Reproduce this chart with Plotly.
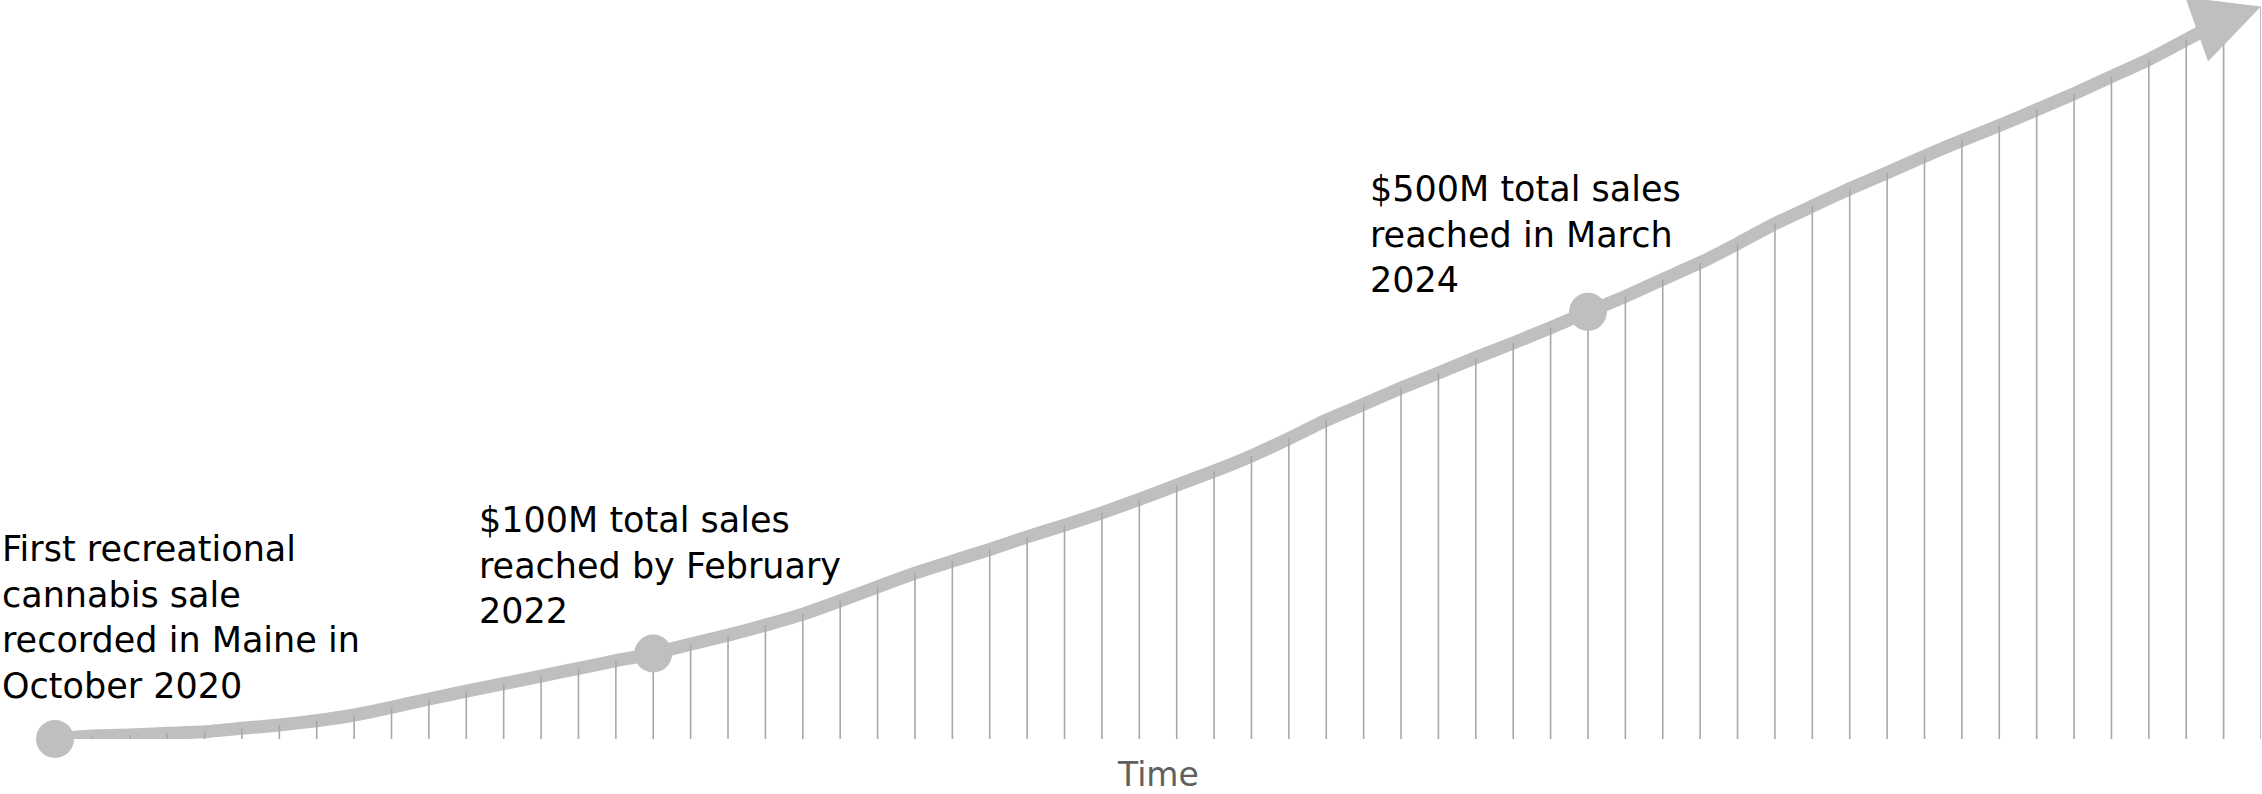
import plotly.graph_objects as go

# ---------------- data ----------------
months = [
    "Oct 2020", "Nov 2020", "Dec 2020",
    "Jan 2021", "Feb 2021", "Mar 2021", "Apr 2021", "May 2021", "Jun 2021",
    "Jul 2021", "Aug 2021", "Sep 2021", "Oct 2021", "Nov 2021", "Dec 2021",
    "Jan 2022", "Feb 2022", "Mar 2022", "Apr 2022", "May 2022", "Jun 2022",
    "Jul 2022", "Aug 2022", "Sep 2022", "Oct 2022", "Nov 2022", "Dec 2022",
    "Jan 2023", "Feb 2023", "Mar 2023", "Apr 2023", "May 2023", "Jun 2023",
    "Jul 2023", "Aug 2023", "Sep 2023", "Oct 2023", "Nov 2023", "Dec 2023",
    "Jan 2024", "Feb 2024", "Mar 2024", "Apr 2024", "May 2024", "Jun 2024",
    "Jul 2024", "Aug 2024", "Sep 2024", "Oct 2024", "Nov 2024", "Dec 2024",
    "Jan 2025", "Feb 2025", "Mar 2025", "Apr 2025", "May 2025", "Jun 2025",
    "Jul 2025", "Aug 2025", "Sep 2025",
]

# cumulative sales, $M
cumulative_sales = [
    0.0, 3.5, 4.7, 6.7, 8.5, 12.5, 16.4, 21.4, 28.1, 37.1,
    46.8, 56.1, 64.8, 73.7, 82.7, 91.6, 100.0, 111.1, 121.6, 133.3,
    146.2, 161.8, 178.1, 194.2, 208.2, 221.9, 236.6, 250.3, 264.7, 280.4,
    297.1, 313.5, 331.3, 351.7, 373.1, 391.8, 410.9, 428.4, 446.4, 463.5,
    481.5, 500.0, 518.1, 538.0, 557.5, 579.8, 603.2, 623.7, 644.1, 662.8,
    682.2, 700.6, 718.1, 736.5, 755.3, 775.4, 795.3, 818.4, 841.8, 857.3,
]

milestone_months = ["Oct 2020", "Feb 2022", "Mar 2024"]
milestone_texts = [
    "First recreational<br>cannabis sale<br>recorded in Maine in<br>October 2020",
    "$100M total sales<br>reached by February<br>2022",
    "$500M total sales<br>reached in March<br>2024",
]
x_title = "Time"

# ---------------- styling / layout constants ----------------
W, H = 2262, 794
ML, MR, MT, MB = 55, 1, 6, 55
PLOT_W = W - ML - MR
PLOT_H = H - MT - MB
LINE_COLOR = "#bfbfbf"
DROP_COLOR = "#a8a8a8"
FONT = "DejaVu Sans"
FS = 35

def px_to_paper(xpx, ypx):
    return (xpx - ML) / PLOT_W, (H - MB - ypx) / PLOT_H

idx = {m: i for i, m in enumerate(months)}
n = len(months)

fig = go.Figure()

# main thick line (up to the second to last point; the arrow finishes it)
fig.add_trace(go.Scatter(
    x=months[:-1], y=cumulative_sales[:-1], mode="lines",
    line=dict(color=LINE_COLOR, width=13, shape="spline", smoothing=0.4),
    hoverinfo="skip", showlegend=False,
))

# vertical drop lines from each month's value to zero
dx, dy = [], []
for m, v in zip(months, cumulative_sales):
    dx += [m, m, None]
    dy += [0, v, None]
fig.add_trace(go.Scatter(
    x=dx, y=dy, mode="lines",
    line=dict(color=DROP_COLOR, width=1.6),
    hoverinfo="skip", showlegend=False, connectgaps=False,
))

# milestone markers
fig.add_trace(go.Scatter(
    x=milestone_months,
    y=[cumulative_sales[idx[m]] for m in milestone_months],
    mode="markers",
    marker=dict(color=LINE_COLOR, size=38, line=dict(width=0)),
    hoverinfo="skip", showlegend=False, cliponaxis=False,
))

annotations = []
# arrow head at the end of the line
annotations.append(dict(
    x=n - 1, y=cumulative_sales[-1], xref="x", yref="y",
    ax=n - 2, ay=cumulative_sales[-2], axref="x", ayref="y",
    text="", showarrow=True, arrowhead=2, arrowsize=1.05, arrowwidth=13,
    arrowcolor=LINE_COLOR, standoff=0,
))

# milestone labels (pixel positions)
label_pos = [(0, 527), (477, 498), (1368, 167)]
for (xp, yp), txt in zip(label_pos, milestone_texts):
    px_, py_ = px_to_paper(xp, yp)
    annotations.append(dict(
        x=px_, y=py_, xref="paper", yref="paper",
        xanchor="left", yanchor="top", align="left",
        text=txt, showarrow=False,
        font=dict(family=FONT, size=FS, color="#000000"),
    ))

# axis title
tx, ty = px_to_paper(1158, 753)
annotations.append(dict(
    x=tx, y=ty, xref="paper", yref="paper", xanchor="center", yanchor="top",
    text=x_title, showarrow=False,
    font=dict(family=FONT, size=33, color="#606060"),
))

fig.update_layout(
    width=W, height=H,
    margin=dict(l=ML, r=MR, t=MT, b=MB, pad=0),
    paper_bgcolor="white", plot_bgcolor="white",
    showlegend=False,
    xaxis=dict(type="category", range=[0, n - 1], visible=False,
               categoryorder="array", categoryarray=months),
    yaxis=dict(range=[0, 858], visible=False),
    annotations=annotations,
)

fig.write_html(
    "out.html",
    config={"displayModeBar": False},
    post_script="document.body.style.margin='0';document.body.style.overflow='hidden';",
)
